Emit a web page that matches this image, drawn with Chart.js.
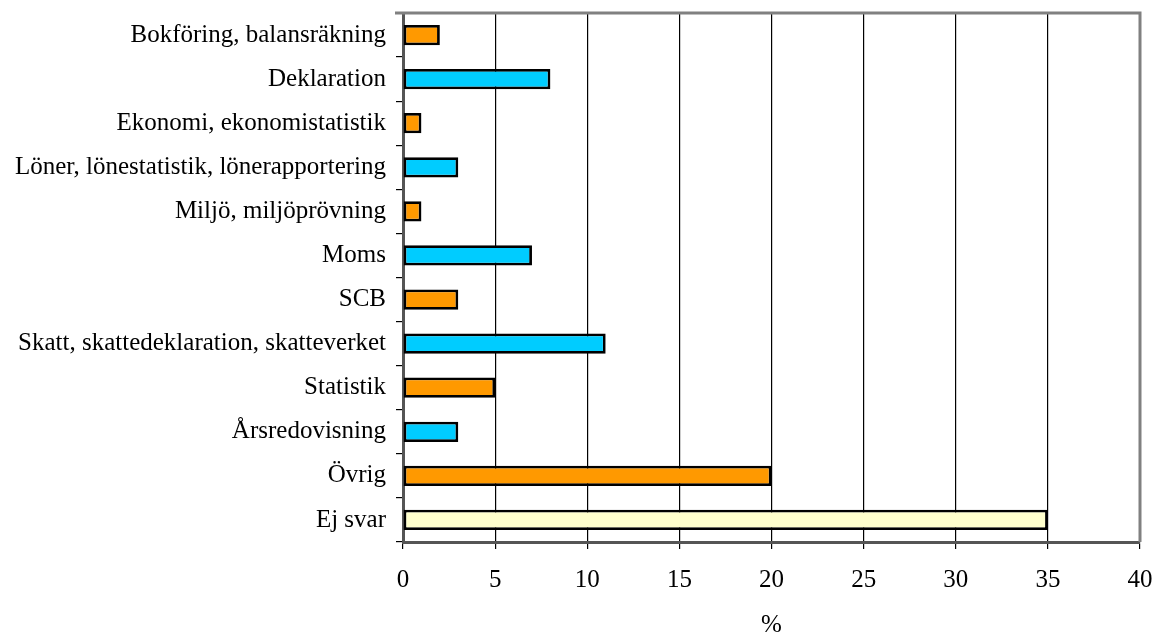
<!DOCTYPE html>
<html><head><meta charset="utf-8">
<script src="https://cdn.jsdelivr.net/npm/chart.js@4/dist/chart.umd.min.js"></script>
<style>html,body{margin:0;padding:0;background:#fff;}#wrap{width:1159px;height:633px;}</style>
</head><body><div id="wrap"><canvas id="c"></canvas></div>
<script>
const categories = ["Bokföring, balansräkning","Deklaration","Ekonomi, ekonomistatistik","Löner, lönestatistik, lönerapportering","Miljö, miljöprövning","Moms","SCB","Skatt, skattedeklaration, skatteverket","Statistik","Årsredovisning","Övrig","Ej svar"];
const values = [2,8,1,3,1,7,3,11,5,3,20,35];
const barColors = ["#FF9900","#00CCFF","#FF9900","#00CCFF","#FF9900","#00CCFF","#FF9900","#00CCFF","#FF9900","#00CCFF","#FF9900","#FFFFCC"];
const xTitle = "%";

const frame = {
  id:'frame',
  afterDraw(chart){
    const {ctx, chartArea:a} = chart;
    ctx.save();
    ctx.strokeStyle = '#808080'; ctx.lineWidth = 3;
    ctx.beginPath();
    ctx.moveTo(a.left-8, a.top); ctx.lineTo(a.right, a.top); ctx.lineTo(a.right, a.bottom);
    ctx.stroke();
    ctx.restore();
  }
};

new Chart(document.getElementById('c'), {
  type:'bar',
  data:{labels:categories, datasets:[{data:values, backgroundColor:barColors, borderColor:'#000', borderWidth:2.8, borderSkipped:false, barPercentage:0.46, categoryPercentage:1}]},
  options:{
    indexAxis:'y', responsive:true, maintainAspectRatio:false, animation:false,
    devicePixelRatio:1,
    layout:{padding:{top:13, right:19, left:4, bottom:0}},
    plugins:{legend:{display:false}, tooltip:{enabled:false}},
    scales:{
      x:{min:0,max:40,
        afterFit(s){ s.height = 91; s.paddingLeft = 0; s.paddingRight = 0; },
        ticks:{stepSize:5,color:'#000',font:{family:'Liberation Serif',size:25},padding:16},
        grid:{color:(c)=>c.tick && c.tick.value===40?'#808080':'#000', lineWidth:1.2, tickLength:7, tickColor:'#000'},
        border:{color:'#555',width:3},
        title:{display:true,text:xTitle,color:'#000',font:{family:'Liberation Serif',size:25},padding:{top:0,bottom:-7}}
      },
      y:{
        afterFit(s){ s.width = 399; s.paddingTop = 0; s.paddingBottom = 0; },
        ticks:{color:'#000',font:{family:'Liberation Serif',size:25},padding:10},
        grid:{offset:true, drawOnChartArea:false, tickLength:7, tickColor:'#000', lineWidth:1.2},
        border:{color:'#555',width:3}
      }
    }
  },
  plugins:[frame]
});
</script>
</body></html>
